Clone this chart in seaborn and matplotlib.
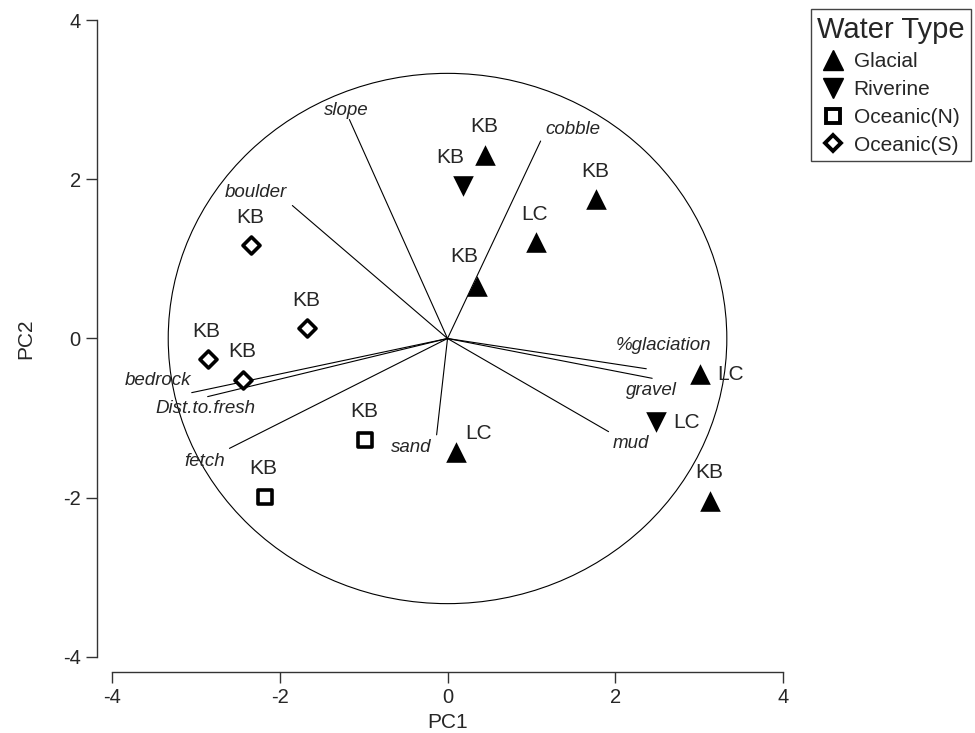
import pandas as pd
import seaborn as sns
from matplotlib import pyplot as plt
from matplotlib.patches import Circle
from matplotlib.lines import Line2D

# site scores
pc1 = [0.45, 1.77, 1.05, 0.35, 3.01, 0.10, 3.13, 0.19, 2.48, -0.98, -2.18, -2.34, -1.67, -2.86, -2.44]
pc2 = [2.31, 1.75, 1.21, 0.66, -0.45, -1.42, -2.04, 1.91, -1.05, -1.27, -1.99, 1.17, 0.13, -0.26, -0.52]
water = ['Glacial'] * 7 + ['Riverine'] * 2 + ['Oceanic(N)'] * 2 + ['Oceanic(S)'] * 4
site = ['KB', 'KB', 'LC', 'KB', 'LC', 'LC', 'KB', 'KB', 'LC', 'KB', 'KB', 'KB', 'KB', 'KB', 'KB']
site_where = ['up', 'up', 'up', 'upleft', 'right', 'upright', 'up', 'upleft', 'right',
              'up', 'up', 'up', 'up', 'up', 'up']

# variable loadings
variables = ['slope', 'cobble', 'boulder', '%glaciation', 'gravel', 'mud', 'sand',
             'bedrock', 'Dist.to.fresh', 'fetch']
load1 = [-1.17, 1.11, -1.85, 2.37, 2.44, 1.92, -0.13, -3.05, -2.86, -2.60]
load2 = [2.75, 2.48, 1.67, -0.38, -0.50, -1.17, -1.21, -0.68, -0.73, -1.38]

df = pd.DataFrame({'PC1': pc1, 'PC2': pc2, 'water': water, 'site': site, 'where': site_where})

sns.set_style('white')
plt.rcParams['font.family'] = ['Liberation Sans', 'DejaVu Sans']
plt.rcParams['axes.unicode_minus'] = False

fig = plt.figure(figsize=(9.75, 7.33), dpi=100)
ax = fig.add_axes([0.1149, 0.1037, 0.6882, 0.869])

# marker styles
styles = {
    'Glacial': dict(marker='^', s=220, color='black', edgecolor='black', linewidth=0),
    'Riverine': dict(marker='v', s=220, color='black', edgecolor='black', linewidth=0),
    'Oceanic(N)': dict(marker='s', s=95, color='white', edgecolor='black', linewidth=2.6),
    'Oceanic(S)': dict(marker='D', s=75, color='white', edgecolor='black', linewidth=2.6),
}
for wt, st in styles.items():
    sub = df[df.water == wt]
    sns.scatterplot(data=sub, x='PC1', y='PC2', ax=ax, legend=False, zorder=3, **st)

# site labels
off = {'up': (-1, 28), 'upleft': (-13, 29), 'right': (31, 0), 'upright': (23, 18)}
for _, r in df.iterrows():
    ax.annotate(r.site, (r.PC1, r.PC2), xytext=off[r['where']], textcoords='offset pixels',
                ha='center', va='center', fontsize=15)

# loading vectors
var_off = {'slope': (-3, 9), 'cobble': (32, 12), 'boulder': (-36, 13), '%glaciation': (17, 23),
           'gravel': (-1, -12), 'mud': (22, -12), 'sand': (-25, -13), 'bedrock': (-34, 12),
           'Dist.to.fresh': (-2, -12), 'fetch': (-25, -13)}
for v, a, b in zip(variables, load1, load2):
    ax.plot([0, a], [0, b], color='black', lw=0.8)
    ax.annotate(v, (a, b), xytext=var_off[v], textcoords='offset pixels',
                ha='center', va='center', fontsize=13.5, style='italic')

ax.add_patch(Circle((0, 0), 3.33, fill=False, edgecolor='black', lw=0.8))

ax.set_xlim(-4, 4)
ax.set_ylim(-4, 4)
ax.set_xticks([-4, -2, 0, 2, 4])
ax.set_yticks([-4, -2, 0, 2, 4])
ax.set_xlabel('PC1', fontsize=15, labelpad=4)
ax.set_ylabel('PC2', fontsize=15, labelpad=20)
for sp in ['top', 'right']:
    ax.spines[sp].set_visible(False)
for sp in ['left', 'bottom']:
    ax.spines[sp].set_position(('outward', 11))
    ax.spines[sp].set_color('#333333')
    ax.spines[sp].set_linewidth(1)
ax.tick_params(direction='out', length=8, width=1, color='#333333', labelsize=14.5,
               left=True, bottom=True)

handles = [Line2D([], [], linestyle='none', marker='^', markersize=14, color='black'),
           Line2D([], [], linestyle='none', marker='v', markersize=14, color='black'),
           Line2D([], [], linestyle='none', marker='s', markersize=9.5, markerfacecolor='white',
                  markeredgecolor='black', markeredgewidth=2.8),
           Line2D([], [], linestyle='none', marker='D', markersize=8.5, markerfacecolor='white',
                  markeredgecolor='black', markeredgewidth=2.8)]
leg = fig.legend(handles, list(styles.keys()), title='Water Type', loc='upper right',
                 bbox_to_anchor=(1.0, 0.993), fontsize=15, title_fontsize=21,
                 fancybox=False, edgecolor='#444444', framealpha=1, handlelength=1.0,
                 handletextpad=0.5, labelspacing=0.42, borderpad=0.3, borderaxespad=0.2)
leg.get_frame().set_linewidth(1)

fig.savefig('out.png', dpi=100)
